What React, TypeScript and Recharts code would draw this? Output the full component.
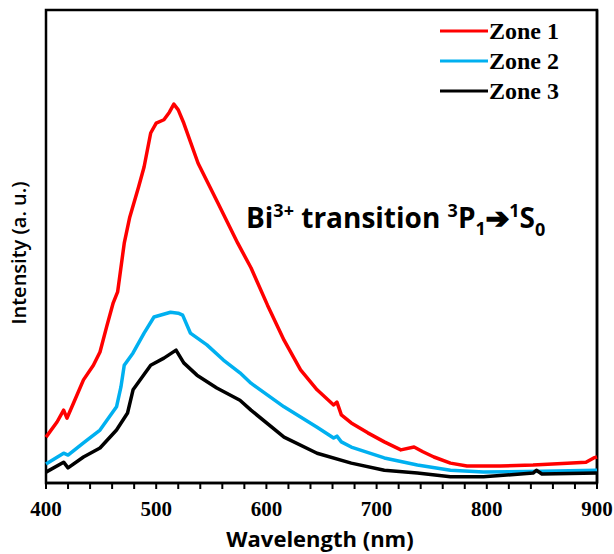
import React from "react";
import { LineChart, Line, XAxis, YAxis, ReferenceLine } from "recharts";

// emission spectra (intensity in arbitrary units, 0-100)
const zone1Wl = [400, 410, 416, 419, 425, 434, 443, 449, 455, 461, 465, 471, 476, 484, 489, 495, 500, 507, 512, 516, 520, 525, 538, 556, 574, 586, 601, 616, 631, 646, 661, 664, 668, 677, 692, 707, 722, 734, 742, 752, 767, 782, 812, 842, 873, 890, 897, 900];
const zone1Val = [9.7, 12.9, 15.4, 13.7, 16.9, 21.8, 24.9, 27.7, 33.0, 38.1, 40.4, 50.7, 56.2, 62.6, 66.8, 74.0, 76.1, 76.8, 78.4, 80.1, 78.9, 76.1, 67.6, 59.2, 50.7, 45.5, 37.6, 30.2, 23.9, 19.7, 16.5, 17.1, 14.4, 12.7, 10.6, 8.7, 7.0, 7.6, 6.6, 5.5, 4.2, 3.6, 3.6, 3.8, 4.2, 4.4, 5.3, 5.5];

const zone2Wl = [400, 416, 420, 434, 449, 464, 468, 471, 479, 489, 498, 513, 520, 524, 531, 546, 561, 576, 586, 616, 646, 661, 664, 668, 677, 707, 737, 767, 797, 850, 900];
const zone2Val = [4.0, 6.3, 5.9, 8.5, 11.2, 16.1, 20.3, 24.9, 27.5, 31.7, 35.1, 36.1, 35.9, 35.5, 31.7, 29.2, 26.0, 23.3, 21.1, 16.1, 11.8, 9.5, 9.9, 8.7, 7.6, 5.3, 3.8, 2.7, 2.3, 2.5, 2.7];

const zone3Wl = [400, 416, 420, 434, 449, 464, 474, 479, 495, 507, 518, 525, 537, 555, 576, 586, 616, 646, 677, 707, 737, 767, 797, 842, 845, 850, 900];
const zone3Val = [2.3, 4.4, 3.2, 5.5, 7.4, 11.2, 14.8, 19.7, 24.9, 26.4, 28.1, 25.4, 22.8, 20.1, 17.5, 15.4, 9.7, 6.3, 4.2, 2.7, 2.1, 1.3, 1.3, 2.1, 2.7, 1.9, 2.1];

const xTicks = [400, 420, 440, 460, 480, 500, 520, 540, 560, 580, 600, 620, 640, 660, 680, 700, 720, 740, 760, 780, 800, 820, 840, 860, 880, 900];

const SERIES = [
  { name: "Zone 1", color: "#ff0000", wl: zone1Wl, val: zone1Val },
  { name: "Zone 2", color: "#00b0f0", wl: zone2Wl, val: zone2Val },
  { name: "Zone 3", color: "#000000", wl: zone3Wl, val: zone3Val },
];

const SANS = "'Open Sans', 'Liberation Sans', sans-serif";
const SERIF = "'Liberation Serif', 'Times New Roman', serif";

function WlTick({ x, y, payload }: any) {
  if (payload.value % 100 !== 0) return <g />;
  return (
    <text x={x} y={y + 25} textAnchor="middle" fontFamily={SERIF} fontWeight="bold" fontSize={21} fill="#000">
      {payload.value}
    </text>
  );
}

export default function App() {
  return (
    <div style={{ position: "absolute", left: 0, top: 0, width: 614, height: 554, background: "#fff" }}>
      <LineChart width={614} height={554} margin={{ top: 10, right: 17, left: 46, bottom: 0 }}>
        <XAxis
          type="number"
          dataKey="wl"
          domain={[400, 900]}
          ticks={xTicks}
          interval={0}
          height={71}
          tickSize={6}
          tick={<WlTick />}
          axisLine={{ stroke: "#000", strokeWidth: 2.5 }}
          tickLine={{ stroke: "#000", strokeWidth: 2 }}
          allowDuplicatedCategory={false}
        />
        <YAxis
          type="number"
          domain={[0, 100]}
          width={0}
          tick={false}
          tickLine={false}
          axisLine={{ stroke: "#000", strokeWidth: 2.5 }}
        />
        <ReferenceLine x={900} stroke="#000" strokeWidth={2.5} ifOverflow="visible" />
        {/* plot frame */}
        <rect x={46} y={10} width={551} height={473} fill="none" stroke="#000" strokeWidth={2.5} />
        {SERIES.map((s) => (
          <Line
            key={s.name}
            name={s.name}
            data={s.wl.map((w, i) => ({ wl: w, v: s.val[i] }))}
            dataKey="v"
            type="linear"
            stroke={s.color}
            strokeWidth={3.5}
            strokeLinejoin="round"
            dot={false}
            isAnimationActive={false}
          />
        ))}
        {SERIES.map((s, i) => (
          <g key={"leg" + s.name}>
            <line x1={440} x2={488} y1={31 + i * 30} y2={31 + i * 30} stroke={s.color} strokeWidth={3} />
            <text x={489} y={39 + i * 30} fontFamily={SERIF} fontWeight="bold" fontSize={24} fill="#000">
              {s.name}
            </text>
          </g>
        ))}
        <text x={246} y={228} fontFamily={SANS} fontWeight="bold" fontSize={28} fill="#000">
          Bi<tspan fontSize={18} dy={-11}>3+</tspan>
          <tspan dy={11}> transition </tspan>
          <tspan fontSize={18} dy={-11}>3</tspan>
          <tspan dy={11}>P</tspan>
          <tspan fontSize={18} dy={7}>1</tspan>
          <tspan dy={-7} fontFamily="'DejaVu Sans', sans-serif" fontWeight="bold" stroke="#000" strokeWidth={1.6}>➔</tspan>
          <tspan fontSize={18} dy={-11}>1</tspan>
          <tspan dy={11}>S</tspan>
          <tspan fontSize={18} dy={8}>0</tspan>
        </text>
        <text x={320} y={547} textAnchor="middle" fontFamily={SANS} fontWeight="bold" fontSize={22} fill="#000">
          Wavelength (nm)
        </text>
        <text
          x={26}
          y={253}
          transform="rotate(-90 26 253)"
          textAnchor="middle"
          fontFamily={SANS}
          fontWeight={600}
          fontSize={20}
          fill="#000"
        >
          Intensity (a. u.)
        </text>
      </LineChart>
    </div>
  );
}
